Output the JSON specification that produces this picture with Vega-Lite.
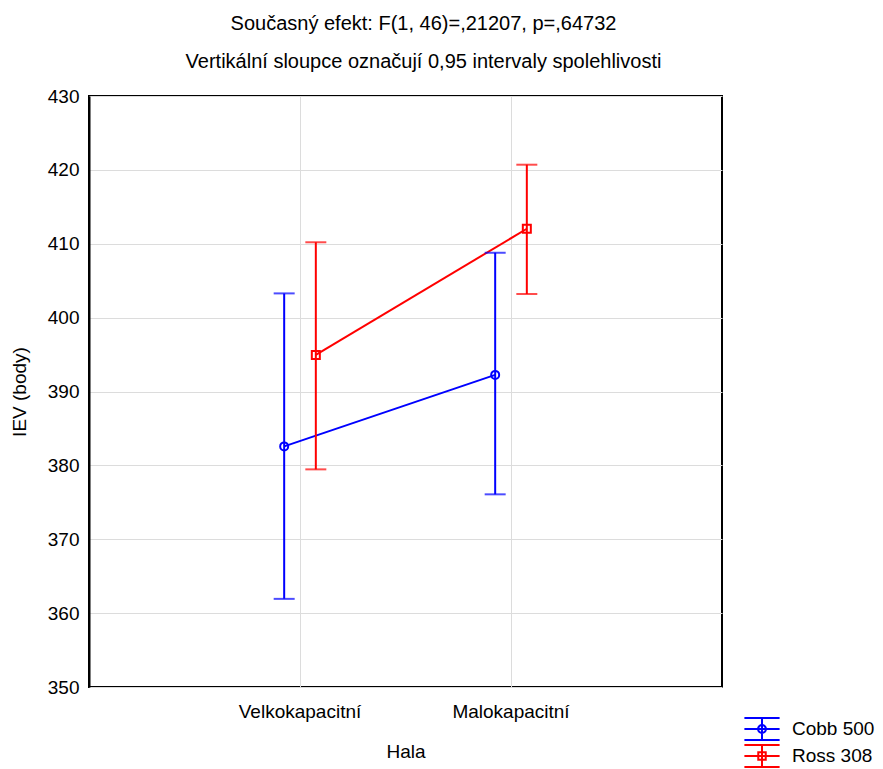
{
  "$schema": "https://vega.github.io/schema/vega-lite/v6.json",
  "autosize": {"type": "none"},
  "padding": {"left": 89, "top": 96, "right": 161, "bottom": 82},
  "width": 633,
  "height": 591,
  "background": "white",
  "title": {
    "text": ["Současný efekt: F(1, 46)=,21207, p=,64732", "Vertikální sloupce označují 0,95 intervaly spolehlivosti"],
    "font": "Liberation Sans",
    "fontSize": 20,
    "fontWeight": "normal",
    "color": "#000",
    "anchor": "middle",
    "dx": 18,
    "offset": 15,
    "lineHeight": 38
  },
  "config": {
    "font": "Liberation Sans",
    "view": {"stroke": "#000", "strokeWidth": 2},
    "axis": {
      "labelFont": "Liberation Sans",
      "titleFont": "Liberation Sans",
      "labelFontSize": 19,
      "titleFontSize": 19,
      "titleFontWeight": "normal",
      "labelColor": "#000",
      "titleColor": "#000",
      "domainColor": "#000",
      "domainWidth": 2,
      "tickColor": "#000",
      "gridColor": "#dcdcdc",
      "gridWidth": 1
    }
  },
  "data": {
    "values": [
      {"Hala": "Velkokapacitní", "series": "Cobb 500", "mean": 382.57, "lower": 361.93, "upper": 403.28},
      {"Hala": "Malokapacitní", "series": "Cobb 500", "mean": 392.25, "lower": 376.08, "upper": 408.78},
      {"Hala": "Velkokapacitní", "series": "Ross 308", "mean": 394.95, "lower": 379.46, "upper": 410.2},
      {"Hala": "Malokapacitní", "series": "Ross 308", "mean": 412.03, "lower": 403.2, "upper": 420.7}
    ]
  },
  "encoding": {
    "x": {
      "field": "Hala",
      "type": "nominal",
      "sort": ["Velkokapacitní", "Malokapacitní"],
      "scale": {"paddingInner": 0.7, "paddingOuter": 0.85},
      "axis": {
        "title": "Hala",
        "labelAngle": 0,
        "bandPosition": 0.5,
        "grid": true,
        "domain": false,
        "ticks": false,
        "labelPadding": 15,
        "titlePadding": 21
      }
    },
    "xOffset": {
      "field": "series",
      "type": "nominal",
      "sort": ["Cobb 500", "Ross 308"],
      "scale": {"paddingInner": 0, "paddingOuter": 0}
    },
    "color": {
      "field": "series",
      "type": "nominal",
      "scale": {"domain": ["Cobb 500", "Ross 308"], "range": ["#0000ff", "#ff0000"]},
      "legend": {
        "title": null,
        "orient": "none",
        "legendX": 661,
        "legendY": 621,
        "padding": 0,
        "rowPadding": -4,
        "labelFont": "Liberation Sans",
        "labelFontSize": 19,
        "labelColor": "#000",
        "labelOffset": 18,
        "symbolSize": 484,
        "symbolStrokeWidth": 2,
        "symbolFillColor": "transparent",
        "symbolOpacity": 1,
        "encode": {
          "symbols": {
            "update": {
              "shape": {"signal": "datum.value === 'Cobb 500' ? 'M-1.6,-1H1.6M-1.6,0H1.6M-1.6,1H1.6M0,-1V1M0.36,0A0.36,0.36 0 1,1 -0.36,0A0.36,0.36 0 1,1 0.36,0' : 'M-1.6,-1H1.6M-1.6,0H1.6M-1.6,1H1.6M0,-1V1M-0.34,-0.34H0.34V0.34H-0.34Z'"},
              "fill": {"value": "transparent"},
              "fillOpacity": {"value": 0},
              "strokeWidth": {"value": 2}
            }
          }
        }
      }
    }
  },
  "layer": [
    {
      "mark": {"type": "line", "strokeWidth": 2},
      "encoding": {
        "y": {
          "field": "mean",
          "type": "quantitative",
          "scale": {"domain": [350, 430], "nice": false, "zero": false},
          "axis": {
            "title": "IEV (body)",
            "values": [350, 360, 370, 380, 390, 400, 410, 420, 430],
            "ticks": false,
            "labelPadding": 10,
            "titlePadding": 18,
            "grid": true
          }
        }
      }
    },
    {
      "mark": {"type": "rule", "strokeWidth": 2},
      "encoding": {
        "y": {"field": "lower", "type": "quantitative"},
        "y2": {"field": "upper"}
      }
    },
    {
      "mark": {"type": "tick", "thickness": 2, "size": 21, "orient": "horizontal"},
      "encoding": {"y": {"field": "lower", "type": "quantitative"}}
    },
    {
      "mark": {"type": "tick", "thickness": 2, "size": 21, "orient": "horizontal"},
      "encoding": {"y": {"field": "upper", "type": "quantitative"}}
    },
    {
      "transform": [{"filter": "datum.series === 'Cobb 500'"}],
      "mark": {"type": "point", "shape": "circle", "filled": false, "size": 64, "strokeWidth": 2, "opacity": 1},
      "encoding": {"y": {"field": "mean", "type": "quantitative"}}
    },
    {
      "transform": [{"filter": "datum.series === 'Ross 308'"}],
      "mark": {"type": "point", "shape": "square", "filled": false, "size": 64, "strokeWidth": 2, "opacity": 1},
      "encoding": {"y": {"field": "mean", "type": "quantitative"}}
    }
  ]
}
